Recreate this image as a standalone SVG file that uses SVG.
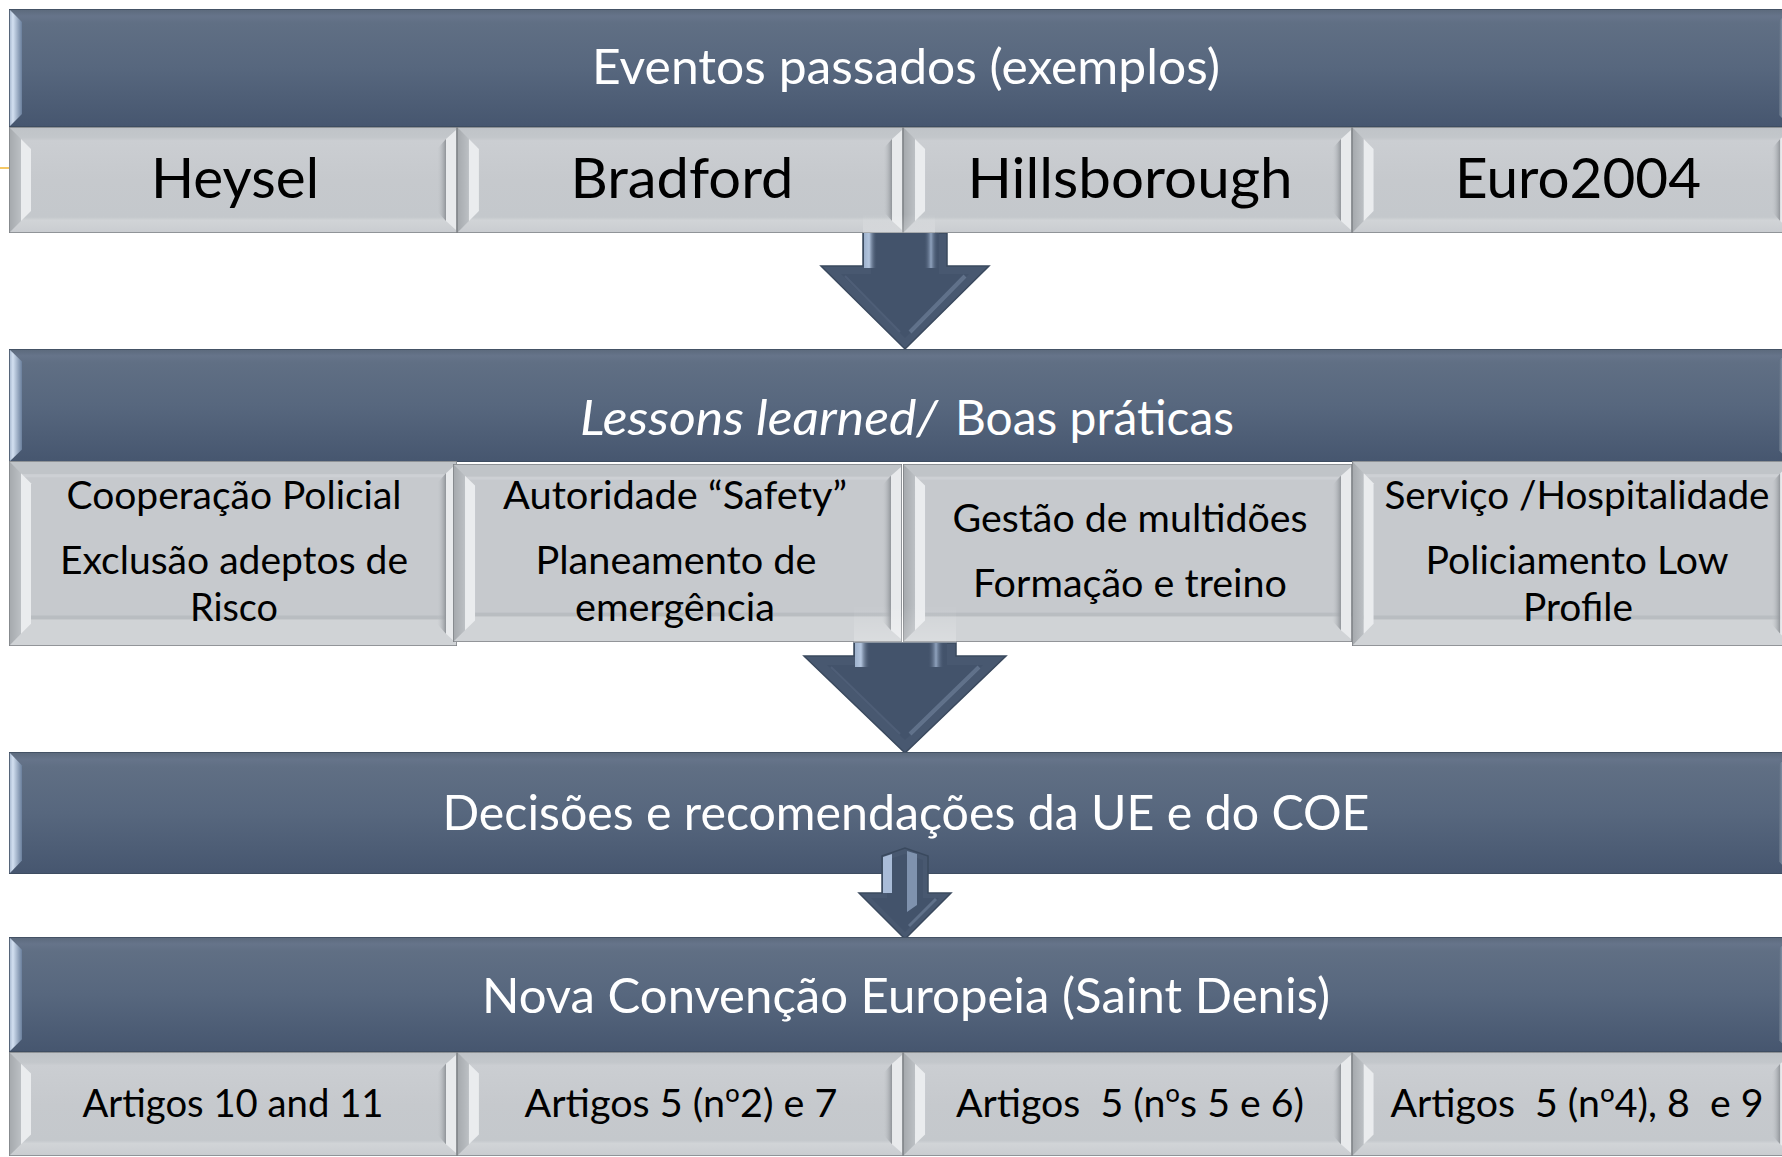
<svg xmlns="http://www.w3.org/2000/svg" xmlns:xlink="http://www.w3.org/1999/xlink" width="1782" height="1157" viewBox="0 0 1782 1157">
<style>
.ht{font-family:Lato,"Open Sans","Liberation Sans",sans-serif;fill:#ffffff;font-size:48px;text-anchor:middle}
.bt1{font-family:Lato,"Open Sans","Liberation Sans",sans-serif;fill:#000000;font-size:57px;text-anchor:middle}
.bt{font-family:Lato,"Open Sans","Liberation Sans",sans-serif;fill:#000000;font-size:38px;text-anchor:middle}
.ord{font-family:"Noto Sans","Open Sans",sans-serif}
.pre{white-space:pre}
.arr{fill:#485870;stroke:#3a495e;stroke-width:1.5}
.arrIn{fill:#43536b}
</style>
<defs>
<linearGradient id="hdrGrad" x1="0" y1="0" x2="0" y2="1">
<stop offset="0" stop-color="#5b697b"/>
<stop offset="0.06" stop-color="#66748a"/>
<stop offset="0.12" stop-color="#606f84"/>
<stop offset="0.5" stop-color="#57677e"/>
<stop offset="1" stop-color="#46566f"/>
</linearGradient>
<linearGradient id="hdrL" x1="0" y1="0" x2="1" y2="0">
<stop offset="0" stop-color="#9fb1c9"/>
<stop offset="0.3" stop-color="#d3e0f1"/>
<stop offset="1" stop-color="#6a7f9c"/>
</linearGradient>
<linearGradient id="hdrR" x1="0" y1="0" x2="1" y2="0">
<stop offset="0" stop-color="#5d6c80"/>
<stop offset="0.6" stop-color="#a9bbd2"/>
<stop offset="1" stop-color="#7f92ad"/>
</linearGradient>
<linearGradient id="boxGrad" x1="0" y1="0" x2="0" y2="1">
<stop offset="0" stop-color="#bfc3c7"/>
<stop offset="0.1" stop-color="#c3c7cb"/>
<stop offset="0.13" stop-color="#cbced2"/>
<stop offset="0.5" stop-color="#c6c9cd"/>
<stop offset="0.85" stop-color="#c4c8cc"/>
<stop offset="0.88" stop-color="#d1d4d7"/>
<stop offset="1" stop-color="#c9ccd0"/>
</linearGradient>
<linearGradient id="rShadow" x1="0" y1="0" x2="1" y2="0">
<stop offset="0" stop-color="#c5c9cd" stop-opacity="0"/>
<stop offset="1" stop-color="#8f9398"/>
</linearGradient>
<linearGradient id="lBand" x1="0" y1="0" x2="1" y2="0">
<stop offset="0" stop-color="#a4a8ac"/>
<stop offset="1" stop-color="#bcc0c4"/>
</linearGradient>
<linearGradient id="shL" x1="0" y1="0" x2="1" y2="0">
<stop offset="0" stop-color="#9eb2cd"/>
<stop offset="0.4" stop-color="#b3c5de"/>
<stop offset="1" stop-color="#44546c" stop-opacity="0"/>
</linearGradient>
<linearGradient id="shR" x1="0" y1="0" x2="1" y2="0">
<stop offset="0" stop-color="#44546c" stop-opacity="0"/>
<stop offset="0.5" stop-color="#8fa2bd"/>
<stop offset="1" stop-color="#44546c" stop-opacity="0"/>
</linearGradient>
<linearGradient id="fadeUp" x1="0" y1="0" x2="0" y2="1">
<stop offset="0" stop-color="#ffffff" stop-opacity="0"/>
<stop offset="1" stop-color="#ffffff" stop-opacity="0.22"/>
</linearGradient>
<symbol id="hdrS" viewBox="0 0 1782 118" preserveAspectRatio="none">
<rect x="0" y="0" width="1782" height="118" fill="url(#hdrGrad)"/>
<polygon points="0,0 13,13 13,105 0,118" fill="url(#hdrL)"/>
<polygon points="1782,0 1770,12 1770,106 1782,118" fill="url(#hdrR)"/>
<rect x="0" y="0" width="1782" height="118" fill="none" stroke="#3d4b5e" stroke-width="1.5" vector-effect="non-scaling-stroke"/>
</symbol>
<symbol id="bevS" viewBox="0 0 448 106" preserveAspectRatio="none">
<rect x="0" y="0" width="448" height="106" fill="url(#boxGrad)"/>
<polygon points="0,0 12,12 12,94 0,106" fill="url(#lBand)"/>
<polygon points="12,12 22,22 22,84 12,94" fill="#eaecee"/>
<polygon points="428,22 437,12 437,94 428,84" fill="url(#rShadow)"/>
<polygon points="437,12 447,3 447,103 437,94" fill="#e8eaec"/>
<rect x="0" y="0" width="448" height="106" fill="none" stroke="#7e8185" stroke-width="1.5" vector-effect="non-scaling-stroke"/>
</symbol>
<symbol id="bevL" viewBox="0 0 448 182" preserveAspectRatio="none">
<rect x="0" y="0" width="448" height="182" fill="#c6c9cd"/>
<rect x="0" y="0" width="448" height="13" fill="#c0c4c8"/>
<rect x="0" y="13" width="448" height="3" fill="#cdd0d4"/>
<rect x="0" y="152" width="448" height="4" fill="#b9bdc1"/>
<rect x="0" y="156" width="448" height="26" fill="#d0d3d6"/>
<polygon points="0,0 12,12 12,170 0,182" fill="url(#lBand)"/>
<polygon points="12,12 22,22 22,160 12,170" fill="#eaecee"/>
<polygon points="428,22 437,12 437,170 428,160" fill="url(#rShadow)"/>
<polygon points="437,12 447,3 447,179 437,170" fill="#e8eaec"/>
<rect x="0" y="0" width="448" height="182" fill="none" stroke="#7e8185" stroke-width="1.5" vector-effect="non-scaling-stroke"/>
</symbol>
</defs>
<rect x="0" y="0" width="1782" height="1157" fill="#ffffff"/>
<line x1="0" y1="168" x2="9" y2="168" stroke="#f2b632" stroke-width="1.5"/>

<g id="connectors">
<g id="arrow1">
<path class="arr" d="M863,233 L947,233 L947,266 L989,266 L905,349 L821,266 L863,266 Z"/>
<path class="arrIn" d="M871,233 L939,233 L939,274 L969,274 L905,338 L841,274 L871,274 Z"/>
<rect x="864" y="233" width="13" height="35" fill="url(#shL)"/>
<rect x="924" y="233" width="14" height="35" fill="url(#shR)"/>
<line x1="965" y1="276" x2="910" y2="332" stroke="#7d8fa9" stroke-width="4" stroke-opacity="0.5"/>
<line x1="845" y1="276" x2="900" y2="332" stroke="#56667f" stroke-width="2" stroke-opacity="0.6"/>
</g>
<g id="arrow2">
<path class="arr" d="M854,643 L956,643 L956,656 L1006,656 L905,753 L804,656 L854,656 Z"/>
<path class="arrIn" d="M863,643 L947,643 L947,665 L983,665 L905,740 L827,665 L863,665 Z"/>
<rect x="855" y="643" width="15" height="24" fill="url(#shL)"/>
<rect x="928" y="643" width="16" height="24" fill="url(#shR)"/>
<line x1="979" y1="667" x2="910" y2="734" stroke="#7d8fa9" stroke-width="4" stroke-opacity="0.5"/>
<line x1="831" y1="667" x2="900" y2="734" stroke="#56667f" stroke-width="2" stroke-opacity="0.6"/>
</g>
</g>

<g id="header1">
<use xlink:href="#hdrS" x="9" y="9" width="1782" height="118"/>
<text class="ht" x="906" y="84" textLength="628" lengthAdjust="spacingAndGlyphs">Eventos passados (exemplos)</text>
</g>
<g id="heysel">
<use xlink:href="#bevS" x="9" y="127" width="448" height="106"/>
<text class="bt1" x="235" y="198" textLength="168" lengthAdjust="spacingAndGlyphs">Heysel</text>
</g>
<g id="bradford">
<use xlink:href="#bevS" x="457" y="127" width="446" height="106"/>
<text class="bt1" x="682" y="198" textLength="223" lengthAdjust="spacingAndGlyphs">Bradford</text>
</g>
<g id="hillsborough">
<use xlink:href="#bevS" x="903" y="127" width="449" height="106"/>
<text class="bt1" x="1130" y="198" textLength="325" lengthAdjust="spacingAndGlyphs">Hillsborough</text>
</g>
<g id="euro2004">
<use xlink:href="#bevS" x="1352" y="127" width="439" height="106"/>
<text class="bt1" x="1578" y="198" textLength="246" lengthAdjust="spacingAndGlyphs">Euro2004</text>
</g>
<rect x="863" y="214" width="72" height="19" fill="url(#fadeUp)"/>

<g id="header2">
<use xlink:href="#hdrS" x="9" y="349" width="1782" height="113"/>
<text class="ht" style="text-anchor:start" y="435"><tspan x="580" font-style="italic" textLength="358" lengthAdjust="spacingAndGlyphs">Lessons learned/</tspan><tspan x="955" textLength="279" lengthAdjust="spacingAndGlyphs">Boas práticas</tspan></text>
</g>
<g id="lesson1">
<use xlink:href="#bevL" x="9" y="461" width="448" height="185"/>
<text class="bt"><tspan x="234" y="509" textLength="335" lengthAdjust="spacingAndGlyphs">Cooperação Policial</tspan><tspan x="234" y="574" textLength="348" lengthAdjust="spacingAndGlyphs">Exclusão adeptos de</tspan><tspan x="234" y="621" textLength="88" lengthAdjust="spacingAndGlyphs">Risco</tspan></text>
</g>
<g id="lesson2">
<use xlink:href="#bevL" x="453" y="464" width="449" height="178"/>
<text class="bt"><tspan x="675" y="509" textLength="344" lengthAdjust="spacingAndGlyphs">Autoridade “Safety”</tspan><tspan x="676" y="574" textLength="281" lengthAdjust="spacingAndGlyphs">Planeamento de</tspan><tspan x="675" y="621" textLength="200" lengthAdjust="spacingAndGlyphs">emergência</tspan></text>
</g>
<g id="lesson3">
<use xlink:href="#bevL" x="903" y="464" width="449" height="178"/>
<text class="bt"><tspan x="1130" y="532" textLength="355" lengthAdjust="spacingAndGlyphs">Gestão de multidões</tspan><tspan x="1130" y="597" textLength="314" lengthAdjust="spacingAndGlyphs">Formação e treino</tspan></text>
</g>
<g id="lesson4">
<use xlink:href="#bevL" x="1352" y="461" width="439" height="185"/>
<text class="bt"><tspan x="1577" y="509" textLength="385" lengthAdjust="spacingAndGlyphs">Serviço /Hospitalidade</tspan><tspan x="1577" y="574" textLength="303" lengthAdjust="spacingAndGlyphs">Policiamento Low</tspan><tspan x="1578" y="621" textLength="110" lengthAdjust="spacingAndGlyphs">Profile</tspan></text>
</g>
<rect x="854" y="605" width="102" height="38" fill="url(#fadeUp)"/>

<g id="header3">
<use xlink:href="#hdrS" x="9" y="752" width="1782" height="122"/>
<text class="ht" x="906" y="830" textLength="927" lengthAdjust="spacingAndGlyphs">Decisões e recomendações da UE e do COE</text>
</g>

<g id="arrow3">
<path class="arr" d="M882,856 L905,848 L928,856 L928,893 L951,893 L905,939 L859,893 L882,893 Z"/>
<path class="arrIn" d="M887,860 L905,854 L923,860 L923,898 L939,898 L905,932 L871,898 L887,898 Z"/>
<polygon points="883,857 892,854 892,893 883,893" fill="#a9bcd8"/>
<polygon points="907,851 917,854 917,905 907,912" fill="#8a9dba" fill-opacity="0.85"/>
<line x1="936" y1="899" x2="909" y2="926" stroke="#7d8fa9" stroke-width="3" stroke-opacity="0.5"/>
</g>

<g id="header4">
<use xlink:href="#hdrS" x="9" y="937" width="1782" height="115"/>
<text class="ht" x="906" y="1013" textLength="848" lengthAdjust="spacingAndGlyphs">Nova Convenção Europeia (Saint Denis)</text>
</g>
<g id="art1">
<use xlink:href="#bevS" x="9" y="1052" width="448" height="104"/>
<text class="bt" x="233" y="1117" textLength="301" lengthAdjust="spacingAndGlyphs">Artigos 10 and 11</text>
</g>
<g id="art2">
<use xlink:href="#bevS" x="457" y="1052" width="446" height="104"/>
<text class="bt" x="681" y="1117" textLength="313" lengthAdjust="spacingAndGlyphs">Artigos 5 (n<tspan class="ord">º</tspan>2) e 7</text>
</g>
<g id="art3">
<use xlink:href="#bevS" x="903" y="1052" width="449" height="104"/>
<text class="bt pre" xml:space="preserve" x="1130" y="1117" textLength="348" lengthAdjust="spacingAndGlyphs">Artigos  5 (n<tspan class="ord">º</tspan>s 5 e 6)</text>
</g>
<g id="art4">
<use xlink:href="#bevS" x="1352" y="1052" width="439" height="104"/>
<text class="bt pre" xml:space="preserve" x="1577" y="1117" textLength="373" lengthAdjust="spacingAndGlyphs">Artigos  5 (n<tspan class="ord">º</tspan>4), 8  e 9</text>
</g>
</svg>
